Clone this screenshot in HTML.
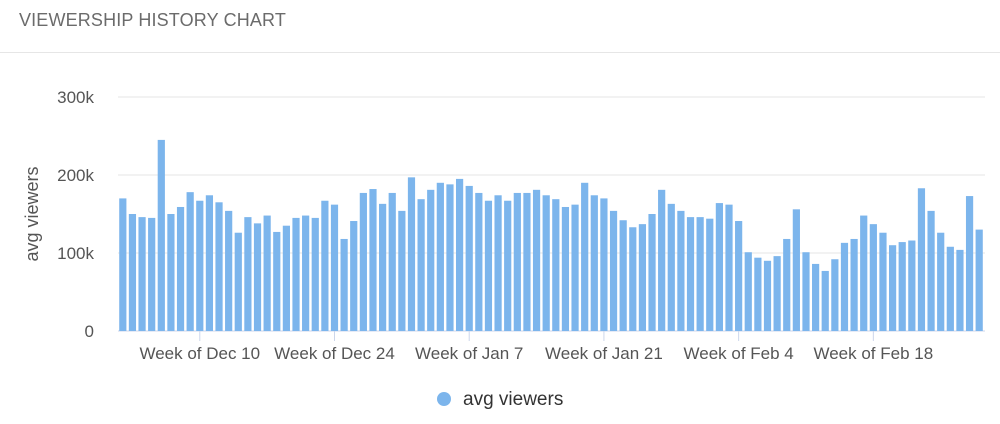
<!DOCTYPE html>
<html><head><meta charset="utf-8"><style>
body{margin:0;background:#fff;font-family:"Liberation Sans",sans-serif;}
#wrap{position:relative;width:1000px;height:424px;overflow:hidden;}
#title{position:absolute;left:19px;top:10px;font-size:18px;color:#6b6b6b;letter-spacing:0.15px;}
#sep{position:absolute;left:0;top:52px;width:1000px;height:1px;background:#e6e6e6;}
</style></head><body>
<div id="wrap">
<div id="title">VIEWERSHIP HISTORY CHART</div>
<div id="sep"></div>
<svg id="chart" width="1000" height="424" style="position:absolute;left:0;top:0"></svg>
</div>
<script>
const values=[170,150,146,145,245,150,159,178,167,174,165,154,126,146,138,148,127,135,145,148,145,167,162,118,141,177,182,163,177,154,197,169,181,190,188,195,186,177,167,174,167,177,177,181,174,169,159,162,190,174,170,154,142,133,137,150,181,163,154,146,146,144,164,162,141,101,94,90,96,118,156,101,86,77,92,113,118,148,137,126,110,114,116,183,154,126,108,104,173,130];
const yTicks=[0,100,200,300];
const yTickLabels=["0","100k","200k","300k"];
const xTickIdx=[8,22,36,50,64,78];
const xTickLabels=["Week of Dec 10","Week of Dec 24","Week of Jan 7","Week of Jan 21","Week of Feb 4","Week of Feb 18"];
const NS="http://www.w3.org/2000/svg";
const svg=document.getElementById('chart');
const x0=118,x1=984,y0=331,pxPer=0.78;
const step=(x1-x0)/values.length;
function xs(i){return x0+(i+0.5)*step;}
function ys(v){return y0-v*pxPer;}
function mk(t,a){const e=document.createElementNS(NS,t);for(const k in a)e.setAttribute(k,a[k]);svg.appendChild(e);return e;}
yTicks.forEach((v,i)=>{
 const g=mk('line',{x1:x0,x2:x1+1,y1:ys(v),y2:ys(v),stroke:i==0?'#ccd6eb':'#e6e6e6','stroke-width':1});
 
 
 const t=mk('text',{x:94,y:ys(v)+6,'text-anchor':'end','font-size':17,fill:'#555'});
 t.textContent=yTickLabels[i];
 
 
});
values.forEach((v,i)=>{
 const r=mk('rect',{x:xs(i)-3.6,y:ys(v),width:7.2,height:v*pxPer,fill:'#7cb5ec'});
 
 
});
xTickIdx.forEach((idx,i)=>{
 const x=xs(idx);
 const l=mk('line',{x1:x,x2:x,y1:y0,y2:y0+10,stroke:'#ccd6eb'});
 
 
 const t=mk('text',{x:x,y:359,'text-anchor':'middle','font-size':17,fill:'#555'});
 t.textContent=xTickLabels[i];
 
 
});
const yt=mk('text',{x:38,y:214,'text-anchor':'middle','font-size':18,fill:'#555',transform:'rotate(-90 38 214)'});
yt.textContent='avg viewers';


const ld=mk('circle',{cx:444,cy:399,r:7,fill:'#7cb5ec'});


const lt=mk('text',{x:463,y:405,'font-size':19,fill:'#333'});
lt.textContent='avg viewers';


</script>
</body></html>
